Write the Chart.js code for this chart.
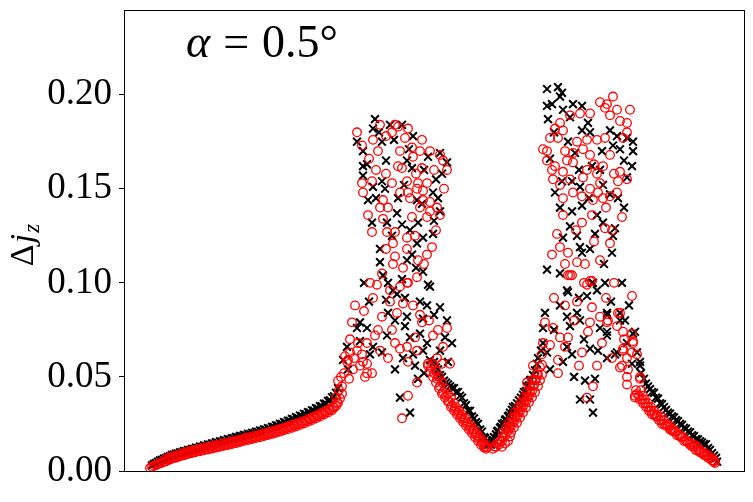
<!DOCTYPE html>
<html>
<head>
<meta charset="utf-8">
<script src="https://cdn.jsdelivr.net/npm/chart.js@4/dist/chart.umd.min.js"></script>
<style>
  body { margin: 0; background: #fff; }
</style>
</head>
<body>
<canvas id="chart" width="753" height="502"></canvas>
<script>
// y tick labels
const yTicks = [0.00, 0.05, 0.10, 0.15, 0.20];

// black crosses, [x, dj_z]
const crossesLeftArm = [[28,.0030],[30,.0038],[32,.0042],[34,.0050],[36,.0056],[38,.0059],[40,.0066],[42,.0068],[44,.0075],[46,.0078],[48,.0086],[50,.0087],[52,.0093],[54,.0093],[56,.0099],[58,.0099],[60,.0106],[62,.0105],[64,.0112],[66,.0111],[68,.0118],[70,.0117],[72,.0124],[74,.0122],[76,.0130],[78,.0128],[80,.0136],[82,.0133],[84,.0141],[86,.0139],[88,.0147],[90,.0145],[92,.0153],[94,.0150],[96,.0158],[98,.0156],[100,.0164],[102,.0162],[104,.0170],[106,.0167],[108,.0175],[110,.0173],[112,.0181],[114,.0179],[116,.0187],[118,.0184],[120,.0192],[122,.0190],[124,.0198],[126,.0195],[128,.0203],[130,.0201],[132,.0209],[134,.0207],[136,.0215],[138,.0213],[140,.0221],[142,.0219],[144,.0228],[146,.0226],[148,.0235],[150,.0233],[152,.0243],[154,.0241],[156,.0251],[158,.0249],[160,.0260],[162,.0257],[164,.0268],[166,.0266],[168,.0277],[170,.0275],[172,.0286],[174,.0283],[176,.0295],[178,.0292],[180,.0304],[182,.0301],[184,.0313],[186,.0311],[188,.0323],[190,.0321],[192,.0334],[194,.0332],[196,.0345],[198,.0344],[200,.0358],[202,.0358],[204,.0373],[206,.0375],[208,.0392],[210,.0397],[212,.0416],[214,.0440],[219,.059],[223,.066],[224,.054],[233,.076],[236,.069],[236,.079],[243,.076],[246,.062],[249,.066]];
const crossesLeftCloud = [[251,.187],[249,.182],[266,.184],[278,.184],[233,.175],[239,.170],[258,.175],[289,.178],[239,.162],[243,.163],[283,.165],[288,.161],[323,.164],[316,.169],[304,.167],[239,.157],[258,.154],[261,.150],[249,.151],[244,.144],[274,.145],[293,.144],[316,.138],[309,.148],[314,.145],[273,.137],[248,.132],[263,.132],[278,.131],[294,.132],[309,.126],[299,.124],[293,.121],[288,.115],[283,.112],[256,.111],[299,.106],[264,.100],[259,.104],[273,.094],[304,.099],[269,.096],[306,.098],[281,.092],[303,.088],[316,.087],[264,.084],[283,.082],[271,.080],[281,.077],[299,.081],[323,.080],[296,.073],[303,.068],[321,.071],[328,.068],[263,.072],[289,.062],[299,.064],[306,.059],[291,.056],[271,.054],[294,.049],[276,.039],[286,.031],[324,.058],[255,.180],[270,.176],[285,.171],[300,.160],[312,.155],[318,.158],[262,.165],[252,.145],[280,.152],[298,.142],[310,.133],[268,.125],[286,.128],[256,.118],[292,.108],[278,.102],[262,.091],[296,.090],[310,.083],[286,.071],[258,.063],[279,.060],[316,.064],[300,.052],[245,.090],[240,.100]];
const crossesLeftDrop = [[310,.058],[312,.055],[314,.054],[316,.051],[318,.050],[320,.048],[322,.047],[324,.046],[326,.045],[328,.044],[330,.044],[332,.042],[334,.042],[336,.040],[338,.039],[340,.036],[342,.035],[344,.032],[346,.032],[348,.029],[350,.028],[352,.026],[354,.025],[356,.022],[358,.021],[360,.018],[361,.0175],[362,.015],[364,.014]];
const crossesRightArm = [[367,.014],[368,.016],[369,.0165],[370,.018],[372,.0195],[373,.021],[374,.0215],[376,.023],[377,.0235],[378,.025],[380,.0255],[381,.027],[382,.0275],[384,.029],[385,.0295],[386,.031],[388,.0325],[389,.034],[391,.0345],[393,.036],[395,.0375],[397,.039],[399,.0405],[400,.042],[402,.0425],[403,.045],[405,.0455],[406,.048],[407,.0485],[409,.051],[411,.0535],[413,.057],[414,.060],[417,.064],[419,.068]];
const crossesRightCloud = [[444,.095],[468,.100],[481,.100],[463,.093],[473,.096],[436,.088],[421,.084],[419,.076],[443,.082],[453,.084],[446,.077],[456,.080],[483,.084],[476,.076],[483,.072],[496,.084],[501,.080],[511,.074],[503,.068],[491,.062],[513,.063],[516,.056],[466,.065],[474,.064],[443,.066],[448,.062],[439,.058],[426,.054],[461,.048],[471,.049],[456,.038],[466,.038],[469,.031],[423,.063],[423,.203],[434,.204],[438,.201],[436,.199],[423,.194],[428,.195],[424,.187],[449,.195],[458,.194],[439,.192],[446,.188],[464,.185],[458,.181],[466,.180],[486,.181],[493,.178],[503,.177],[509,.175],[509,.170],[496,.171],[489,.173],[508,.162],[503,.156],[468,.162],[476,.160],[438,.154],[451,.169],[426,.166],[448,.154],[456,.151],[479,.152],[486,.147],[494,.145],[436,.140],[448,.138],[458,.141],[473,.136],[479,.132],[491,.129],[471,.126],[439,.124],[453,.125],[489,.125],[456,.119],[458,.116],[488,.116],[443,.096],[469,.100],[423,.107],[430,.180],[444,.175],[478,.170],[500,.165],[455,.160],[431,.148],[465,.145],[500,.140],[446,.130],[466,.118],[480,.110],[436,.105],[498,.100],[455,.092],[487,.090],[430,.075],[505,.088],[460,.070],[483,.060],[450,.050]];
const crossesRightDrop = [[483,.083],[496,.080],[483,.074],[509,.073],[493,.063],[508,.057],[516,.058],[517,.052],[520,.049],[522,.0465],[524,.045],[526,.0435],[528,.042],[530,.0415],[532,.039],[534,.0385],[536,.036],[538,.0355],[540,.034],[542,.0325],[544,.031],[546,.0305],[548,.029],[550,.0285],[552,.027],[554,.0265],[556,.025],[558,.0245],[560,.023],[562,.0225],[564,.021],[566,.0205],[568,.019],[570,.0185],[572,.017],[574,.0168],[576,.0158],[578,.0152],[580,.0143],[582,.0142],[584,.0122],[586,.0112],[588,.0095],[590,.0082],[592,.0070],[593,.0050]];

// red open circles, [x, dj_z]
const circlesLeftArm = [[26,.0016],[28,.0022],[30,.0028],[32,.0031],[34,.0037],[36,.0041],[38,.0044],[40,.0049],[42,.0052],[44,.0058],[46,.0061],[48,.0066],[50,.0071],[52,.0070],[54,.0076],[56,.0078],[58,.0083],[60,.0084],[62,.0089],[64,.0090],[66,.0095],[68,.0096],[70,.0101],[72,.0101],[74,.0106],[76,.0105],[78,.0111],[80,.0110],[82,.0116],[84,.0114],[86,.0120],[88,.0119],[90,.0125],[92,.0124],[94,.0130],[96,.0129],[98,.0135],[100,.0134],[102,.0140],[104,.0138],[106,.0145],[108,.0143],[110,.0150],[112,.0148],[114,.0156],[116,.0154],[118,.0162],[120,.0160],[122,.0167],[124,.0165],[126,.0172],[128,.0170],[130,.0177],[132,.0175],[134,.0183],[136,.0180],[138,.0188],[140,.0186],[142,.0193],[144,.0191],[146,.0199],[148,.0197],[150,.0205],[152,.0203],[154,.0212],[156,.0209],[158,.0219],[160,.0216],[162,.0226],[164,.0223],[166,.0233],[168,.0230],[170,.0240],[172,.0237],[174,.0248],[176,.0245],[178,.0256],[180,.0253],[182,.0265],[184,.0262],[186,.0274],[188,.0271],[190,.0283],[192,.0280],[194,.0292],[196,.0290],[198,.0302],[200,.0300],[202,.0312],[204,.0311],[206,.0324],[208,.0323],[210,.0337],[212,.0345],[214,.0362],[216,.0385],[218,.0410],[231,.088],[228,.079],[234,.068],[233,.064],[243,.057],[243,.052],[214,.048],[223,.058],[249,.092],[253,.099],[251,.072],[229,.054],[236,.056],[241,.050],[215,.043],[217,.050],[220,.052],[218,.045],[221,.061],[226,.063],[212,.039],[225,.049],[230,.060],[238,.062],[226,.070]];
const circlesLeftArmUpper = [[41,.0063],[45,.0072],[49,.0080],[53,.0084],[57,.0092],[61,.0098],[65,.0104],[69,.0110],[73,.0115],[77,.0120],[81,.0125],[85,.0129],[89,.0134],[93,.0139],[97,.0144],[101,.0149],[105,.0154],[109,.0158],[113,.0163],[117,.0169],[121,.0175],[125,.0180],[129,.0185],[133,.0190],[137,.0196],[141,.0201],[145,.0207],[149,.0213],[153,.0219],[157,.0225],[161,.0232],[165,.0239],[169,.0246],[173,.0253],[177,.0261],[181,.0269],[185,.0278],[189,.0287],[193,.0296],[197,.0307],[201,.0317],[205,.0328],[209,.0341],[213,.0365]];
const circlesLeftCloud = [[233,.180],[256,.184],[271,.184],[274,.183],[268,.180],[281,.177],[249,.176],[254,.170],[238,.173],[276,.170],[288,.172],[298,.176],[306,.170],[296,.170],[316,.168],[323,.160],[319,.165],[289,.167],[278,.161],[274,.162],[298,.161],[238,.153],[248,.154],[239,.148],[268,.153],[283,.154],[294,.153],[303,.153],[293,.150],[299,.149],[284,.148],[286,.145],[259,.144],[256,.140],[299,.144],[306,.143],[296,.140],[306,.138],[313,.140],[316,.136],[288,.135],[303,.135],[244,.136],[259,.134],[263,.127],[271,.127],[248,.127],[269,.121],[283,.124],[283,.118],[308,.119],[303,.115],[294,.112],[271,.114],[269,.110],[279,.108],[258,.105],[293,.103],[283,.100],[266,.096],[284,.100],[258,.082],[266,.090],[273,.084],[279,.089],[296,.083],[298,.079],[254,.075],[243,.068],[256,.064],[271,.068],[276,.065],[264,.060],[283,.066],[291,.071],[293,.064],[309,.072],[314,.075],[323,.076],[319,.066],[313,.060],[318,.057],[326,.057],[224,.059],[239,.058],[248,.052],[284,.040],[278,.028],[293,.047],[304,.056],[262,.178],[284,.182],[245,.166],[262,.158],[310,.160],[292,.158],[276,.148],[252,.160],[320,.150],[264,.140],[312,.128],[291,.125],[262,.118],[300,.110],[276,.098],[246,.100],[240,.085],[289,.088],[305,.080],[268,.075],[284,.058]];
const circlesLeftDrop = [[304,.057],[306,.053],[307,.055],[309,.050],[310,.052],[312,.047],[313,.049],[315,.044],[316,.045],[318,.041],[319,.042],[321,.039],[322,.040],[324,.037],[325,.037],[327,.034],[328,.035],[330,.032],[331,.033],[333,.030],[334,.031],[336,.028],[337,.029],[339,.026],[340,.027],[342,.024],[343,.025],[345,.022],[346,.023],[348,.020],[349,.021],[351,.018],[352,.019],[354,.016],[355,.017],[357,.014],[358,.015],[360,.0125],[361,.013],[362,.0118]];
const circlesLeftDropOuter = [[309,.057],[312,.053],[315,.050],[318,.047],[321,.044],[324,.041],[327,.039],[330,.036],[332,.034],[335,.032],[338,.030],[341,.028],[344,.026],[347,.024],[350,.022],[353,.020],[356,.018],[359,.016],[361,.014],[363,.0125]];
const circlesRightArm = [[369,.0118],[370,.0130],[372,.0129],[373,.0146],[375,.0141],[376,.0160],[378,.0157],[379,.0179],[381,.0184],[382,.0205],[384,.0211],[385,.0231],[387,.0236],[388,.0257],[390,.0262],[391,.0284],[393,.0289],[394,.0311],[396,.0316],[397,.0338],[399,.0343],[400,.0365],[402,.0370],[403,.0392],[405,.0397],[406,.0419],[408,.0424],[409,.0452],[410,.0454],[411,.0482],[412,.0485],[413,.0512],[414,.0514],[416,.0552],[418,.0565],[418,.062],[403,.047],[409,.056]];
const circlesRightArmInner = [[379,.0205],[382,.0231],[385,.0257],[388,.0284],[391,.0311],[394,.0338],[397,.0365],[400,.0392],[403,.0419],[406,.0452],[408,.0482]];
const circlesRightArmOuter = [[378,.0129],[381,.0146],[384,.0160],[386,.0184],[387,.0205],[390,.0231],[393,.0257],[396,.0284],[399,.0311],[402,.0338],[405,.0365],[408,.0392],[411,.0419],[414,.0452],[416,.0482],[418,.0512]];
const circlesRightCloud = [[444,.104],[448,.104],[468,.101],[463,.099],[508,.093],[453,.090],[441,.088],[468,.087],[421,.079],[429,.076],[476,.082],[484,.080],[494,.084],[466,.079],[464,.074],[493,.077],[508,.073],[509,.069],[419,.068],[426,.067],[436,.071],[444,.071],[441,.066],[458,.063],[473,.056],[499,.064],[503,.060],[508,.063],[496,.055],[504,.054],[516,.050],[511,.040],[434,.059],[434,.052],[469,.045],[463,.039],[503,.046],[489,.199],[483,.195],[481,.193],[506,.192],[493,.192],[486,.189],[446,.189],[436,.185],[431,.182],[439,.181],[426,.177],[434,.177],[466,.190],[456,.190],[503,.185],[503,.180],[499,.177],[463,.176],[453,.175],[473,.176],[481,.177],[419,.171],[423,.170],[459,.171],[449,.169],[423,.165],[431,.162],[443,.165],[449,.164],[466,.168],[486,.168],[479,.162],[496,.159],[428,.160],[439,.159],[429,.155],[459,.156],[463,.160],[473,.158],[503,.155],[494,.154],[436,.152],[449,.148],[458,.146],[466,.150],[476,.153],[474,.148],[486,.146],[493,.148],[439,.145],[469,.144],[479,.145],[439,.136],[468,.136],[458,.132],[481,.129],[488,.128],[433,.126],[486,.121],[436,.119],[444,.116],[453,.111],[461,.110],[441,.110],[446,.104],[466,.101],[476,.196],[496,.186],[441,.170],[470,.163],[490,.158],[446,.155],[482,.140],[498,.135],[452,.128],[470,.122],[428,.115],[476,.112],[460,.100],[490,.100],[430,.092],[482,.092],[450,.080],[500,.070],[478,.068],[455,.056],[488,.060]];
const circlesRightDrop = [[496,.084],[483,.079],[499,.074],[509,.068],[499,.065],[498,.056],[513,.062],[503,.050],[516,.049],[511,.039],[512,.043],[513,.041],[515,.040],[516,.038],[518,.038],[519,.036],[521,.036],[522,.034],[524,.034],[525,.032],[527,.032],[528,.030],[530,.030],[532,.029],[533,.029],[535,.027],[537,.027],[538,.025],[540,.025],[542,.024],[544,.024],[546,.022],[547,.022],[549,.021],[551,.021],[553,.019],[555,.019],[557,.018],[558,.018],[560,.016],[562,.016],[564,.015],[566,.014],[568,.013],[570,.013],[572,.011],[574,.011],[576,.010],[578,.0095],[580,.0085],[582,.0082],[584,.0070],[586,.0066],[588,.0056],[590,.0048],[591,.0042]];
const circlesRightDropOuter = [[517,.043],[519,.040],[521,.038],[524,.036],[527,.034],[530,.032],[533,.030],[537,.029],[540,.027],[543,.025],[546,.024],[549,.022],[552,.021],[556,.019],[559,.018],[563,.016],[566,.015],[570,.014],[573,.013],[576,.011],[580,.010],[584,.0085],[588,.0070],[590,.0055]];

const serif = '"Liberation Serif", "DejaVu Serif", serif';

function toPoints(...parts) {
    return [].concat(...parts).map(p => ({ x: p[0], y: p[1] }));
}

const crosses = toPoints(crossesLeftArm, crossesLeftCloud, crossesLeftDrop,
    crossesRightArm, crossesRightCloud, crossesRightDrop);
const circles = toPoints(circlesLeftArm, circlesLeftArmUpper, circlesLeftCloud,
    circlesLeftDrop, circlesLeftDropOuter, circlesRightArm, circlesRightArmInner,
    circlesRightArmOuter, circlesRightCloud, circlesRightDrop, circlesRightDropOuter);

// frame, panel text and y label
const decorations = {
    id: 'decorations',
    afterDraw(chart) {
        const ctx = chart.ctx;
        const a = chart.chartArea;
        ctx.save();
        ctx.strokeStyle = '#000';
        ctx.lineWidth = 1;
        ctx.strokeRect(a.left + 0.5, a.top + 0.5, a.right - a.left - 1, a.bottom - a.top);

        // alpha = 0.5 deg
        ctx.fillStyle = '#000';
        ctx.textBaseline = 'alphabetic';
        ctx.textAlign = 'left';
        let x = a.left + 62;
        const y = a.top + 47;
        ctx.font = 'italic 46px ' + serif;
        ctx.fillText('α', x, y);
        x += ctx.measureText('α').width + 13;
        ctx.font = '46px ' + serif;
        ctx.fillText('=', x, y);
        x += ctx.measureText('=').width + 13;
        ctx.fillText('0.5°', x, y);

        // Delta j_z
        ctx.translate(33, 245);
        ctx.rotate(-Math.PI / 2);
        ctx.font = '34px ' + serif;
        const w1 = ctx.measureText('Δ').width;
        ctx.font = 'italic 34px ' + serif;
        const w2 = ctx.measureText('j').width;
        ctx.font = 'italic 23px ' + serif;
        const w3 = ctx.measureText('z').width;
        let u = -(w1 + w2 + w3 + 2) / 2;
        ctx.font = '34px ' + serif;
        ctx.fillText('Δ', u, 0);
        u += w1 + 1;
        ctx.font = 'italic 34px ' + serif;
        ctx.fillText('j', u, 0);
        u += w2 + 1;
        ctx.font = 'italic 23px ' + serif;
        ctx.fillText('z', u, 6);
        ctx.restore();
    }
};

new Chart(document.getElementById('chart'), {
    type: 'scatter',
    data: {
        datasets: [{
            label: 'circles',
            data: circles,
            pointStyle: 'circle',
            pointRadius: 4.3,
            pointBorderWidth: 1.3,
            pointBorderColor: '#ff0000',
            pointBackgroundColor: 'rgba(0,0,0,0)'
        }, {
            label: 'crosses',
            data: crosses,
            pointStyle: 'crossRot',
            pointRadius: 5.5,
            pointBorderWidth: 2,
            pointBorderColor: '#000000',
            pointBackgroundColor: '#000000'
        }]
    },
    options: {
        responsive: false,
        animation: false,
        layout: { padding: { left: 0, top: 10, right: 8, bottom: 31 } },
        plugins: {
            legend: { display: false },
            tooltip: { enabled: false }
        },
        scales: {
            x: {
                type: 'linear',
                min: 0,
                max: 621,
                ticks: { display: false },
                grid: { display: false },
                border: { display: false },
                afterFit: s => { s.height = 0; }
            },
            y: {
                min: 0,
                max: 0.245,
                afterBuildTicks: s => { s.ticks = yTicks.map(v => ({ value: v })); },
                ticks: {
                    color: '#000',
                    padding: 7,
                    font: { family: serif, size: 37 },
                    callback: v => v.toFixed(2)
                },
                grid: {
                    drawOnChartArea: false,
                    tickLength: 5,
                    color: '#000',
                    lineWidth: 1
                },
                border: { display: false },
                afterFit: s => {
                    s.width = 124;
                    s.paddingTop = 0;
                    s.paddingBottom = 0;
                }
            }
        }
    },
    plugins: [decorations]
});
</script>
</body>
</html>
